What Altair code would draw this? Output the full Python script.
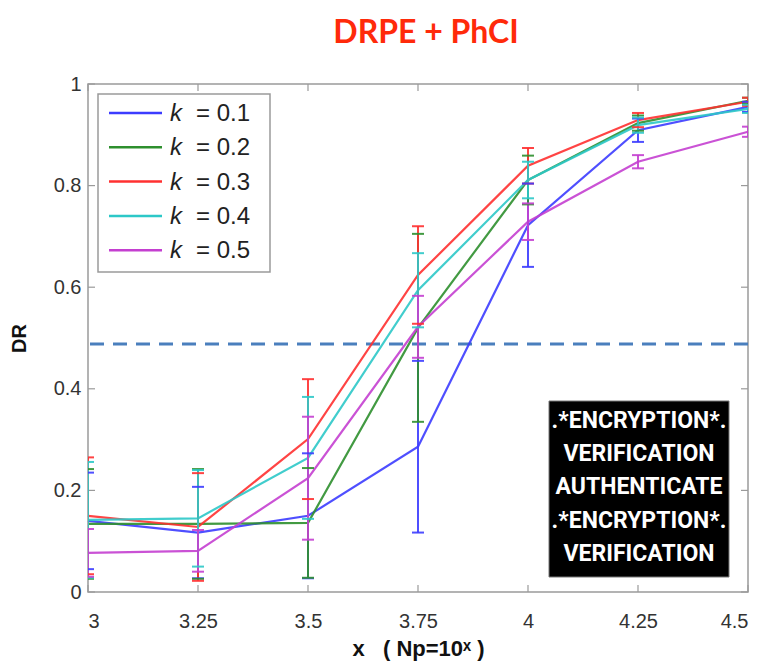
import altair as alt
import pandas as pd

# ---- data ----
x_vals = [3, 3.25, 3.5, 3.75, 4, 4.25, 4.5]
k_labels = ["k = 0.1", "k = 0.2", "k = 0.3", "k = 0.4", "k = 0.5"]
k_eq = ["= 0.1", "= 0.2", "= 0.3", "= 0.4", "= 0.5"]
colors = ["#3c3cff", "#2e8f2e", "#ff3030", "#2cc8c8", "#c43fd0"]

dr_k01 = [0.140, 0.117, 0.150, 0.286, 0.722, 0.909, 0.955]
err_k01 = [0.095, 0.090, 0.123, 0.169, 0.082, 0.023, 0.010]
dr_k02 = [0.134, 0.134, 0.136, 0.520, 0.811, 0.923, 0.967]
err_k02 = [0.108, 0.108, 0.108, 0.185, 0.048, 0.015, 0.006]
dr_k03 = [0.150, 0.128, 0.301, 0.624, 0.839, 0.929, 0.965]
err_k03 = [0.115, 0.106, 0.118, 0.096, 0.035, 0.014, 0.008]
dr_k04 = [0.142, 0.145, 0.264, 0.594, 0.811, 0.919, 0.951]
err_k04 = [0.114, 0.095, 0.120, 0.073, 0.036, 0.015, 0.008]
dr_k05 = [0.077, 0.081, 0.224, 0.522, 0.729, 0.847, 0.906]
err_k05 = [0.047, 0.041, 0.121, 0.061, 0.036, 0.013, 0.010]

threshold = 0.488
y_ticks = [0, 0.2, 0.4, 0.6, 0.8, 1]
box_lines = [".*ENCRYPTION*.", "VERIFICATION", "AUTHENTICATE", ".*ENCRYPTION*.", "VERIFICATION"]

series = [dr_k01, dr_k02, dr_k03, dr_k04, dr_k05]
errors = [err_k01, err_k02, err_k03, err_k04, err_k05]

rows = []
for lab, ys, es in zip(k_labels, series, errors):
    for xv, yv, ev in zip(x_vals, ys, es):
        rows.append({"k": lab, "x": xv, "y": yv, "err": ev})
df = pd.DataFrame(rows)

W, H = 660, 508
FONT = "Liberation Sans"
FRAME = "#9a9a9a"
NB = "\u00a0"

x_scale = alt.Scale(domain=[3, 4.5], nice=False, zero=False)
y_scale = alt.Scale(domain=[0, 1], nice=False)
x_axis = alt.Axis(values=x_vals, format=".3~g", grid=False, ticks=False, domain=False,
                  labelFontSize=20, labelFont=FONT, labelColor="#333", labelPadding=19,
                  title=f"x{NB}{NB}{NB}({NB}Np=10ˣ{NB})", titleFontSize=22, titleFont=FONT,
                  titleFontWeight="bold", titleColor="#111", titlePadding=7)
y_axis = alt.Axis(values=y_ticks, format=".3~g", grid=False, ticks=False, domain=False,
                  labelFontSize=20, labelFont=FONT, labelColor="#333", labelPadding=7,
                  title="DR", titleFontSize=20, titleFont=FONT, titleFontWeight="bold",
                  titleColor="#111", titlePadding=24)
color = alt.Color("k:N", scale=alt.Scale(domain=k_labels, range=colors), legend=None)

base = alt.Chart(df)

lines = base.mark_line(strokeWidth=2.2, opacity=0.9).encode(
    x=alt.X("x:Q", scale=x_scale, axis=x_axis),
    y=alt.Y("y:Q", scale=y_scale, axis=y_axis),
    color=color,
)

bars = base.transform_calculate(lo="datum.y - datum.err", hi="datum.y + datum.err").mark_rule(
    strokeWidth=2, opacity=0.9, clip=True
).encode(
    x=alt.X("x:Q", scale=x_scale, axis=x_axis),
    y=alt.Y("lo:Q", scale=y_scale, axis=y_axis),
    y2="hi:Q",
    color=color,
)
cap_lo = base.transform_calculate(lo="datum.y - datum.err").mark_tick(
    orient="horizontal", size=12, thickness=2, opacity=0.9, clip=True
).encode(
    x=alt.X("x:Q", scale=x_scale, axis=x_axis),
    y=alt.Y("lo:Q", scale=y_scale, axis=y_axis),
    color=color,
)
cap_hi = base.transform_calculate(hi="datum.y + datum.err").mark_tick(
    orient="horizontal", size=12, thickness=2, opacity=0.9, clip=True
).encode(
    x=alt.X("x:Q", scale=x_scale, axis=x_axis),
    y=alt.Y("hi:Q", scale=y_scale, axis=y_axis),
    color=color,
)

dash = alt.Chart(pd.DataFrame({"t": [threshold]})).mark_rule(
    color="#4a7fbd", strokeWidth=3, strokeDash=[14, 9]
).encode(y=alt.Y("t:Q", scale=y_scale, axis=y_axis))

# inward axis ticks on all four sides
xt = alt.Chart(pd.DataFrame({"x": x_vals}))
yt = alt.Chart(pd.DataFrame({"y": y_ticks}))
tick_bottom = xt.mark_rule(color=FRAME, strokeWidth=1.2).encode(
    x=alt.X("x:Q", scale=x_scale, axis=x_axis), y=alt.value(H), y2=alt.value(H - 7))
tick_top = xt.mark_rule(color=FRAME, strokeWidth=1.2).encode(
    x=alt.X("x:Q", scale=x_scale, axis=x_axis), y=alt.value(0), y2=alt.value(7))
tick_left = yt.mark_rule(color=FRAME, strokeWidth=1.2).encode(
    y=alt.Y("y:Q", scale=y_scale, axis=y_axis), x=alt.value(0), x2=alt.value(7))
tick_right = yt.mark_rule(color=FRAME, strokeWidth=1.2).encode(
    y=alt.Y("y:Q", scale=y_scale, axis=y_axis), x=alt.value(W), x2=alt.value(W - 7))

# legend box
one = pd.DataFrame({"a": [0]})
legend_layers = [
    alt.Chart(one).mark_rect(fill="white", stroke=FRAME, strokeWidth=1.5).encode(
        x=alt.value(10), x2=alt.value(182), y=alt.value(10), y2=alt.value(188))
]
for i, (lab, eq, col) in enumerate(zip(k_labels, k_eq, colors)):
    yy = 29 + 34.3 * i
    d = pd.DataFrame({"k": [lab], "eq": [eq]})
    legend_layers.append(alt.Chart(d).mark_rule(stroke=col, strokeWidth=2.5).encode(
        x=alt.value(21), x2=alt.value(74), y=alt.value(yy)))
    legend_layers.append(alt.Chart(d).mark_text(
        text="k", font=FONT, fontSize=24, fontStyle="italic", align="left", baseline="middle",
        color="#222").encode(x=alt.value(82), y=alt.value(yy + 1)))
    legend_layers.append(alt.Chart(d).mark_text(
        font=FONT, fontSize=24, align="left", baseline="middle", color="#222").encode(
        text="eq:N", x=alt.value(108), y=alt.value(yy + 1)))

# black stamp box
stamp_layers = [
    alt.Chart(one).mark_rect(fill="black", stroke="#777", strokeWidth=1).encode(
        x=alt.value(461), x2=alt.value(641), y=alt.value(317), y2=alt.value(493))
]
for i, line in enumerate(box_lines):
    d = pd.DataFrame({"s": [line]})
    stamp_layers.append(alt.Chart(d).mark_text(
        font="Roboto", fontWeight="bold",
        fontSize=23, color="white", align="center", baseline="middle").encode(
        text="s:N", x=alt.value(551), y=alt.value(337 + 33.2 * i)))

chart = alt.layer(
    tick_bottom, tick_top, tick_left, tick_right,
    dash, lines, bars, cap_lo, cap_hi,
    *legend_layers, *stamp_layers,
).properties(
    width=W, height=H,
    title=alt.TitleParams("DRPE + PhCI", font="Lato", fontSize=32, fontWeight="bold",
                          color="#ff2a0a", anchor="middle", dx=8, offset=24),
    autosize=alt.AutoSizeParams(type="none"),
    padding={"left": 80, "top": 76, "right": 10, "bottom": 72},
).configure_view(stroke=FRAME, strokeWidth=1.5)

chart.save("out.html", embed_options={"renderer": "svg", "actions": False})
